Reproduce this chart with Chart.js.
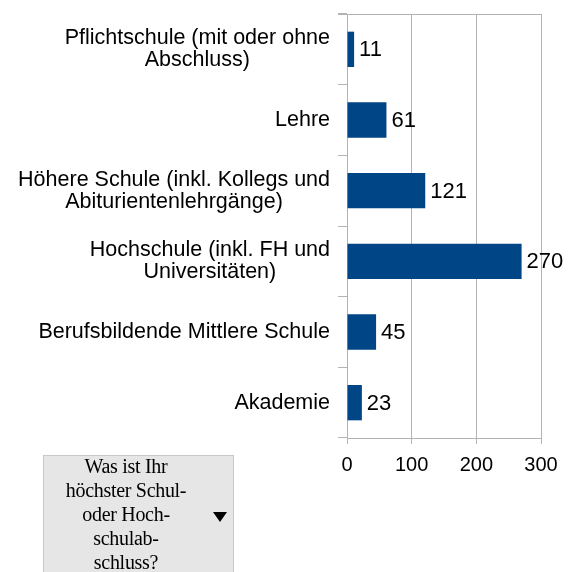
<!DOCTYPE html>
<html>
<head>
<meta charset="utf-8">
<script src="https://cdn.jsdelivr.net/npm/chart.js@4.4.1/dist/chart.umd.min.js"></script>
<style>
  body { margin: 0; background: #fff; }
  #wrap { position: relative; width: 574px; height: 572px; overflow: hidden; }
  #field {
    position: absolute; left: 43px; top: 455px; width: 189px; height: 130px;
    background: #e6e6e6; border: 1px solid #c8c8c8;
  }
  #field .txt {
    position: absolute; left: 0; top: -2px; width: 164px; text-align: center;
    font-family: "Liberation Serif", serif; font-size: 20px; line-height: 24px;
    letter-spacing: -0.3px; color: #000;
  }
  #field .arrow {
    position: absolute; left: 169px; top: 56px; width: 0; height: 0;
    border-left: 7px solid transparent; border-right: 7px solid transparent;
    border-top: 10px solid #000;
  }
</style>
</head>
<body>
<div id="wrap">
  <canvas id="chart" width="574" height="572"></canvas>
  <div id="field">
    <div class="txt">Was ist Ihr<br>höchster Schul-<br>oder Hoch-<br>schulab-<br>schluss?</div>
    <div class="arrow"></div>
  </div>
</div>
<script>
const categories = [
  ["Pflichtschule (mit oder ohne", "Abschluss)"],
  ["Lehre"],
  ["Höhere Schule (inkl. Kollegs und", "Abiturientenlehrgänge)"],
  ["Hochschule (inkl. FH und", "Universitäten)"],
  ["Berufsbildende Mittlere Schule"],
  ["Akademie"]
];
const values = [11, 61, 121, 270, 45, 23];
const xTicks = [0, 100, 200, 300];

const gridColor = "#b3b3b3";
const labelFont = '21.5px "Liberation Sans", Arial, sans-serif';

// Kategorienbeschriftung: mehrzeilig, Zeilen untereinander zentriert
const catLabels = {
  id: "catLabels",
  afterDraw(chart) {
    const ctx = chart.ctx;
    const y = chart.scales.y;
    const right = chart.chartArea.left - 17;
    ctx.save();
    ctx.font = labelFont;
    ctx.fillStyle = "#000";
    ctx.textAlign = "center";
    ctx.textBaseline = "middle";
    categories.forEach((lines, i) => {
      const cy = y.getPixelForTick(i);
      const maxW = Math.max(...lines.map(l => ctx.measureText(l).width));
      const cx = right - maxW / 2;
      const lh = 22;
      lines.forEach((l, j) => {
        ctx.fillText(l, cx, cy + (j - (lines.length - 1) / 2) * lh);
      });
    });
    ctx.restore();
  }
};

// Werte rechts neben den Balken
const valueLabels = {
  id: "valueLabels",
  afterDatasetsDraw(chart) {
    const ctx = chart.ctx;
    const meta = chart.getDatasetMeta(0);
    ctx.save();
    ctx.font = '22px "Liberation Sans", Arial, sans-serif';
    ctx.fillStyle = "#000";
    ctx.textAlign = "left";
    ctx.textBaseline = "middle";
    meta.data.forEach((bar, i) => {
      ctx.fillText(String(values[i]), bar.x + 5, bar.y + 1);
    });
    ctx.restore();
  }
};

// obere Rahmenlinie
const topLine = {
  id: "topLine",
  afterDraw(chart) {
    const ctx = chart.ctx;
    const a = chart.chartArea;
    ctx.save();
    ctx.strokeStyle = gridColor;
    ctx.lineWidth = 1;
    ctx.beginPath();
    ctx.moveTo(a.left - 9, a.top + 0.5);
    ctx.lineTo(a.right, a.top + 0.5);
    ctx.stroke();
    ctx.restore();
  }
};

new Chart(document.getElementById("chart"), {
  type: "bar",
  data: {
    labels: categories,
    datasets: [{
      data: values,
      backgroundColor: "#004586",
      borderWidth: 0,
      barPercentage: 0.5,
      categoryPercentage: 1
    }]
  },
  options: {
    indexAxis: "y",
    responsive: false,
    animation: false,
    layout: { padding: { top: 14, right: 33, left: 0, bottom: 0 } },
    plugins: { legend: { display: false }, tooltip: { enabled: false } },
    scales: {
      y: {
        grid: { offset: true, drawOnChartArea: false, tickLength: 9, color: gridColor },
        border: { color: gridColor },
        ticks: { display: false },
        afterFit(scale) { scale.width = 347; }
      },
      x: {
        min: 0,
        max: 300,
        afterBuildTicks(scale) { scale.ticks = xTicks.map(v => ({ value: v })); },
        grid: { color: gridColor, tickLength: 6 },
        border: { color: gridColor },
        ticks: {
          color: "#000",
          padding: 9,
          font: { family: '"Liberation Sans", Arial, sans-serif', size: 20 }
        },
        afterFit(scale) { scale.height = 134; }
      }
    }
  },
  plugins: [catLabels, valueLabels, topLine]
});
</script>
</body>
</html>
